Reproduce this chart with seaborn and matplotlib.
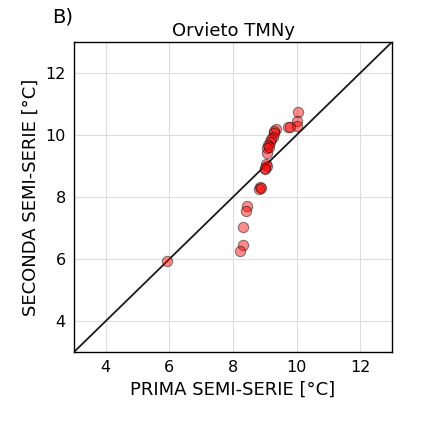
import matplotlib
matplotlib.use("Agg")
import matplotlib.pyplot as plt
import seaborn as sns
import pandas as pd

prima = [10.05, 10.02, 10.0, 9.72, 9.78, 9.34, 9.30, 9.29, 9.25, 9.20, 9.16, 9.11, 9.08, 9.08, 9.04, 9.0,
         8.85, 8.82, 8.88, 8.43, 8.40, 8.33, 8.30, 8.22, 5.92, 9.06, 9.02, 9.12]
seconda = [10.73, 10.45, 10.29, 10.25, 10.26, 10.18, 10.12, 10.05, 9.93, 9.86, 9.78, 9.68, 9.57, 9.43, 9.06, 8.89,
           8.33, 8.25, 8.30, 7.71, 7.56, 7.02, 6.44, 6.27, 5.95, 9.0, 8.95, 9.6]
ticks = [4, 6, 8, 10, 12]

df = pd.DataFrame({"x": prima, "y": seconda})

sns.set_style("white")
plt.rcParams["text.color"] = "black"
plt.rcParams["axes.labelcolor"] = "black"
plt.rcParams["xtick.color"] = "black"
plt.rcParams["ytick.color"] = "black"
fig = plt.figure(figsize=(4.37, 4.32), dpi=100)
ax = fig.add_axes([74/437, 1-352/432, 318/437, 310/432])
ax.plot([3, 13], [3, 13], color="#1a1a1a", lw=1.3, zorder=1)
sns.scatterplot(data=df, x="x", y="y", ax=ax, color="red", alpha=0.45, s=55,
                edgecolor="black", linewidth=0.8, zorder=3)
ax.set_xlim(3, 13)
ax.set_ylim(3, 13)
ax.set_xticks(ticks)
ax.set_yticks(ticks)
ax.grid(True, color="#dddddd", lw=0.8)
ax.set_axisbelow(True)
for s in ax.spines.values():
    s.set_color("black")
    s.set_linewidth(1.0)
ax.tick_params(labelsize=11.5, length=0, pad=6, colors="black")
ax.set_xlabel("PRIMA SEMI-SERIE [°C]", fontsize=13, color="black")
ax.set_ylabel("SECONDA SEMI-SERIE [°C]", fontsize=13, color="black")
ax.set_title("Orvieto TMNy", fontsize=13, pad=4, color="black")
fig.text(52/437, 1-17/432, "B)", fontsize=14, va="center", ha="left", color="black")
fig.savefig("out.png", dpi=100)
